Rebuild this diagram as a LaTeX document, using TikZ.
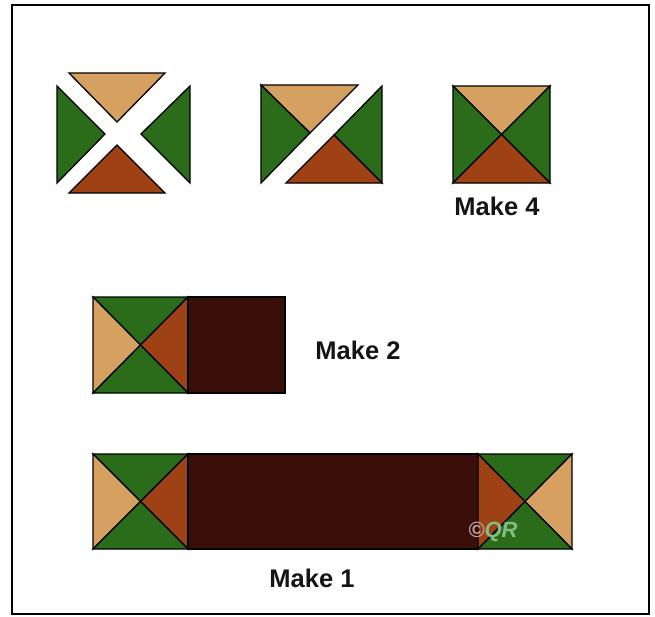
\documentclass[tikz,border=0pt]{standalone}
\usepackage{fontspec}
\setmainfont{Liberation Sans}
\definecolor{tanc}{RGB}{214,160,96}
\definecolor{grnc}{RGB}{42,108,26}
\definecolor{rustc}{RGB}{158,66,22}
\definecolor{darkc}{RGB}{58,14,9}
\definecolor{wmpink}{RGB}{190,160,165}
\definecolor{wmgreen}{RGB}{130,190,130}
\tikzset{
  patch/.style={draw=black, line width=1.3pt, line join=miter},
  tanp/.style={patch, fill=tanc},
  grnp/.style={patch, fill=grnc},
  rustp/.style={patch, fill=rustc},
  darkp/.style={patch, fill=darkc},
  lbl/.style={font=\fontsize{25.5}{28}\selectfont\bfseries, text=black!92, inner sep=0pt}
}
\begin{document}
\begin{tikzpicture}[x=1pt,y=-1pt]
\useasboundingbox (0,0) rectangle (655,616);
\fill[white] (0,0) rectangle (655,616);
\draw[line width=2pt] (12,5) rectangle (649,614);

% piece 1: four separated triangles
\draw[tanp]  (69,73) -- (165,73) -- (117,122) -- cycle;
\draw[grnp]  (57,86) -- (105,134) -- (57,183) -- cycle;
\draw[grnp]  (190,86) -- (190,183) -- (141,134) -- cycle;
\draw[rustp] (117,145) -- (165,193) -- (69,193) -- cycle;

% piece 2: two halves
\draw[tanp]  (261,85) -- (358,85) -- (310,133) -- cycle;
\draw[grnp]  (261,85) -- (310,133) -- (261,183) -- cycle;
\draw[grnp]  (382,86) -- (382,183) -- (334,135) -- cycle;
\draw[rustp] (286,183) -- (382,183) -- (334,135) -- cycle;

% piece 3: full square
\draw[tanp]  (453,86) -- (550,86) -- (501.5,134.5) -- cycle;
\draw[grnp]  (453,86) -- (501.5,134.5) -- (453,183) -- cycle;
\draw[grnp]  (550,86) -- (550,183) -- (501.5,134.5) -- cycle;
\draw[rustp] (453,183) -- (550,183) -- (501.5,134.5) -- cycle;
\node[lbl] (m4) at (497,206) {Make 4};

% row 2
\draw[grnp]  (93,297) -- (188,297) -- (140.5,345) -- cycle;
\draw[tanp]  (93,297) -- (140.5,345) -- (93,393) -- cycle;
\draw[rustp] (188,297) -- (188,393) -- (140.5,345) -- cycle;
\draw[grnp]  (93,393) -- (188,393) -- (140.5,345) -- cycle;
\draw[darkp] (188,297) rectangle (285,393);
\node[lbl] (m2) at (358,350) {Make 2};

% row 3
\draw[grnp]  (93,454) -- (188,454) -- (140.5,501.5) -- cycle;
\draw[tanp]  (93,454) -- (140.5,501.5) -- (93,549) -- cycle;
\draw[rustp] (188,454) -- (188,549) -- (140.5,501.5) -- cycle;
\draw[grnp]  (93,549) -- (188,549) -- (140.5,501.5) -- cycle;
\draw[darkp] (188,454) rectangle (478,549);
\draw[darkc!70!red!60!black, line width=0.6pt] (190,520) -- (476,520);
\draw[grnp]  (478,454) -- (572,454) -- (525,501.5) -- cycle;
\draw[rustp] (478,454) -- (525,501.5) -- (478,549) -- cycle;
\draw[tanp]  (572,454) -- (572,549) -- (525,501.5) -- cycle;
\draw[grnp]  (478,549) -- (572,549) -- (525,501.5) -- cycle;
\node[inner sep=0pt, font=\fontsize{22}{24}\selectfont\bfseries\itshape] (wm) at (493,532)
  {\textcolor{wmpink}{©}\textcolor{wmgreen}{QR}};
\node[lbl] (m1) at (312,578) {Make 1};
\end{tikzpicture}
\end{document}
